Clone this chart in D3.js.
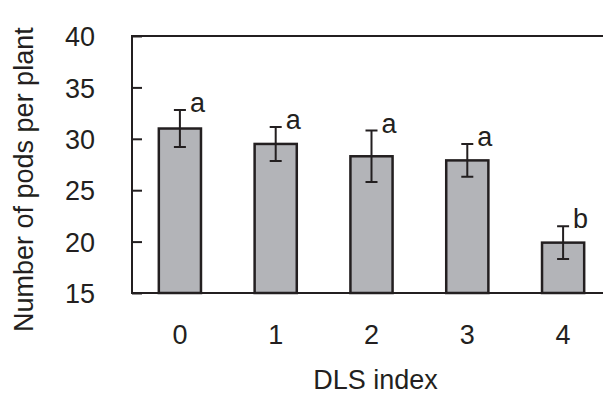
<!DOCTYPE html>
<html>
<head>
<meta charset="utf-8">
<script src="https://cdn.jsdelivr.net/npm/d3@7"></script>
<style>
  body { margin: 0; background: #fff; }
  svg text { font-family: "Liberation Sans", Arial, sans-serif; fill: #231f20; }
</style>
</head>
<body>
<div id="chart"></div>
<script>
/* DATA */
const categories = ["0", "1", "2", "3", "4"];
const means = [31.0, 29.5, 28.3, 27.9, 19.9];
const errors = [1.8, 1.65, 2.5, 1.6, 1.6];
const letters = ["a", "a", "a", "a", "b"];
const yTicks = [15, 20, 25, 30, 35, 40];

/* CONSTANTS */
const width = 603,
  height = 394,
  margin = { top: 36, bottom: 101, left: 132, right: -8 },
  ink = "#231f20",
  fontSize = 27;

const svg = d3.select("#chart")
  .append("svg")
  .attr("width", width)
  .attr("height", height);

// scales
const xScale = d3.scaleBand()
  .domain(categories)
  .range([margin.left, width - margin.right])
  .paddingInner(0.56)
  .paddingOuter(0.28);

const yScale = d3.scaleLinear()
  .domain([15, 40])
  .range([height - margin.bottom, margin.top]);

// frame: top and bottom lines run off the right edge
svg.append("path")
  .attr("d", `M${width + 10},${margin.top}H${margin.left}V${height - margin.bottom}H${width + 10}`)
  .attr("fill", "none")
  .attr("stroke", ink)
  .attr("stroke-width", 2);

// bars
svg.selectAll("rect.bar")
  .data(means)
  .join("rect")
  .attr("class", "bar")
  .attr("x", (d, i) => xScale(categories[i]))
  .attr("width", xScale.bandwidth())
  .attr("y", d => yScale(d))
  .attr("height", d => yScale(15) - yScale(d))
  .attr("fill", "#b3b4b8")
  .attr("stroke", ink)
  .attr("stroke-width", 2.5);

// error bars
const cx = i => xScale(categories[i]) + xScale.bandwidth() / 2;
const capW = 6;
const err = svg.append("g")
  .attr("stroke", ink)
  .attr("stroke-width", 2)
  .attr("fill", "none");

err.selectAll("path")
  .data(means)
  .join("path")
  .attr("d", (d, i) => {
    const x = cx(i), y1 = yScale(d + errors[i]), y0 = yScale(d - errors[i]);
    return `M${x - capW},${y1}H${x + capW}M${x},${y1}V${y0}M${x - capW},${y0}H${x + capW}`;
  });

// significance letters
svg.selectAll("text.sig")
  .data(letters)
  .join("text")
  .attr("class", "sig")
  .attr("x", (d, i) => cx(i) + 10)
  .attr("y", (d, i) => yScale(means[i] + errors[i]) + 2)
  .attr("font-size", fontSize)
  .text(d => d);

// y axis with inward ticks
const yAxis = d3.axisLeft(yScale)
  .tickValues(yTicks)
  .tickSizeInner(-10)
  .tickSizeOuter(0)
  .tickPadding(37);

const gy = svg.append("g")
  .attr("transform", `translate(${margin.left},0)`)
  .call(yAxis);
gy.select(".domain").remove();
gy.selectAll(".tick line").attr("stroke", ink).attr("stroke-width", 2);
gy.selectAll(".tick text")
  .attr("font-size", fontSize)
  .attr("font-family", "Liberation Sans, Arial, sans-serif")
  .attr("fill", ink)
  .attr("dy", "0.36em");

// x axis, labels only
const xAxis = d3.axisBottom(xScale)
  .tickSize(0)
  .tickPadding(32);

const gx = svg.append("g")
  .attr("transform", `translate(0,${height - margin.bottom})`)
  .call(xAxis);
gx.select(".domain").remove();
gx.selectAll(".tick text")
  .attr("font-size", fontSize)
  .attr("font-family", "Liberation Sans, Arial, sans-serif")
  .attr("fill", ink);

// axis titles
svg.append("text")
  .attr("x", (margin.left + width - margin.right) / 2 + 4)
  .attr("y", 389)
  .attr("text-anchor", "middle")
  .attr("font-size", fontSize)
  .text("DLS index");

svg.append("text")
  .attr("transform", "translate(33,332) rotate(-90)")
  .attr("text-anchor", "start")
  .attr("font-size", fontSize)
  .text("Number of pods per plant");
</script>
</body>
</html>
